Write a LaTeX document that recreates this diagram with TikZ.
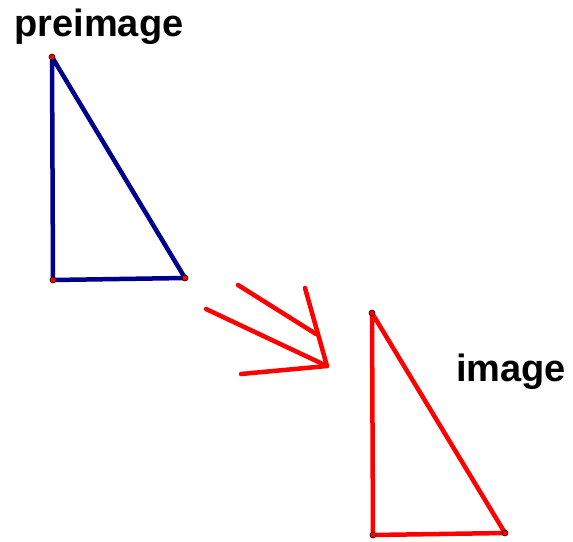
\documentclass[tikz,border=0pt]{standalone}
\usepackage{fontspec}
\setmainfont{Liberation Sans}
\begin{document}
\begin{tikzpicture}[x=1pt,y=-1pt,
  vdot/.style={circle,fill=red,draw=black,line width=0.6pt,inner sep=0pt,minimum size=6pt},
  blueline/.style={draw={rgb,255:red,0;green,0;blue,140},line width=4.5pt,line cap=round,line join=round},
  redline/.style={draw=red,line width=4.5pt,line cap=round,line join=round},
  lbl/.style={font=\fontsize{38}{40}\selectfont\bfseries,inner sep=0pt}]
\useasboundingbox (0,0) rectangle (573,541);
% preimage
\coordinate (A) at (52,57);
\coordinate (B) at (53,280);
\coordinate (C) at (185,278);
\draw[blueline] (A) -- (B) -- (C) -- cycle;
\node[vdot] (a) at (A) {};
\node[vdot] (b) at (B) {};
\node[vdot] (c) at (C) {};
% image
\coordinate (D) at (372,313);
\coordinate (E) at (373,535);
\coordinate (F) at (505,533);
\draw[redline] (D) -- (E) -- (F) -- cycle;
\node[vdot] (d) at (D) {};
\node[vdot] (e) at (E) {};
\node[vdot] (f) at (F) {};
% arrow
\coordinate (T) at (327,366);
\coordinate (P1) at (206,309);
\coordinate (P2) at (238,285);
\coordinate (Q2) at (316,334);
\coordinate (P3) at (305,288);
\coordinate (P4) at (241,374);
\draw[redline] (P1) -- (T);
\draw[redline] (P2) -- (Q2);
\draw[redline] (P3) -- (T) -- (P4);
% labels
\node[lbl] (pre) at (99,27) {preimage};
\node[lbl] (img) at (511,372) {image};
\end{tikzpicture}
\end{document}
